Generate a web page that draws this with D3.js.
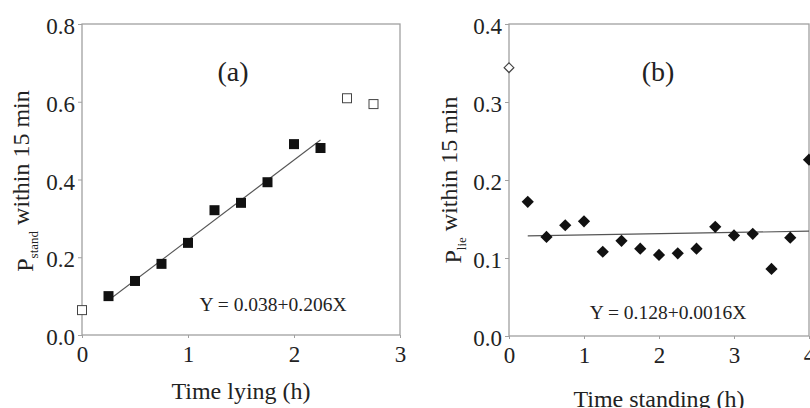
<!DOCTYPE html>
<html><head><meta charset="utf-8">
<script src="https://cdn.jsdelivr.net/npm/d3@7"></script>
<style>body{margin:0;background:#fff}svg{display:block}text{font-family:"Liberation Serif","Times New Roman",serif;fill:#222}</style>
</head><body><svg id="c" width="810" height="408"></svg>
<script>
// Panel (a)
const aFilledX = [0.25,0.5,0.75,1.0,1.25,1.5,1.75,2.0,2.25];
const aFilledY = [0.100,0.139,0.183,0.237,0.321,0.340,0.393,0.491,0.481];
const aOpenX = [0,2.5,2.75];
const aOpenY = [0.064,0.609,0.594];
const aFit = {a:0.038, b:0.206, x0:0.25, x1:2.25};
const aXTicks = [0,1,2,3];
const aYTicks = [0.0,0.2,0.4,0.6,0.8];
// Panel (b)
const bFilledX = [0.25,0.5,0.75,1.0,1.25,1.5,1.75,2.0,2.25,2.5,2.75,3.0,3.25,3.5,3.75,4.0];
const bFilledY = [0.172,0.127,0.142,0.147,0.108,0.122,0.112,0.104,0.106,0.112,0.140,0.129,0.131,0.086,0.126,0.226];
const bOpenX = [0];
const bOpenY = [0.344];
const bFit = {a:0.128, b:0.0016, x0:0.25, x1:4};
const bXTicks = [0,1,2,3,4];
const bYTicks = [0.0,0.1,0.2,0.3,0.4];

const svg = d3.select("#c");
const axisCol = "#a0a0a0";

function panel(o){
  const x = d3.scaleLinear().domain(o.xd).range([o.l,o.r]);
  const y = d3.scaleLinear().domain(o.yd).range([o.b,o.t]);
  const g = svg.append("g");
  g.append("rect").attr("x",o.l).attr("y",o.t).attr("width",o.r-o.l).attr("height",o.b-o.t)
    .attr("fill","none").attr("stroke",axisCol).attr("stroke-width",1.3);
  const ya = g.append("g").attr("transform",`translate(${o.l},0)`)
    .call(d3.axisLeft(y).tickValues(o.yt).tickFormat(d3.format(".1f")).tickSize(4).tickPadding(3));
  ya.select(".domain").remove();
  ya.selectAll("line").attr("stroke",axisCol);
  ya.selectAll("text").style("font-size","23px").attr("fill","#333").attr("dy","0.42em");
  const xa = g.append("g").attr("transform",`translate(0,${o.b})`)
    .call(d3.axisBottom(x).tickValues(o.xt).tickFormat(d3.format("d")).tickSize(3).tickPadding(8));
  xa.select(".domain").remove();
  xa.selectAll("line").attr("stroke",axisCol);
  xa.selectAll("text").style("font-size","23px").attr("fill","#333");
  g.append("line").attr("x1",x(o.fit.x0)).attr("y1",y(o.fit.a+o.fit.b*o.fit.x0))
    .attr("x2",x(o.fit.x1)).attr("y2",y(o.fit.a+o.fit.b*o.fit.x1))
    .attr("stroke","#555").attr("stroke-width",1.1);
  const filled = o.fx.map((d,i)=>[d,o.fy[i]]);
  const open = o.ox.map((d,i)=>[d,o.oy[i]]);
  if(o.shape==="square"){
    g.selectAll(".f").data(filled).join("rect").attr("x",d=>x(d[0])-5).attr("y",d=>y(d[1])-5)
      .attr("width",10).attr("height",10).attr("fill","#111");
    g.selectAll(".o").data(open).join("rect").attr("x",d=>x(d[0])-4.5).attr("y",d=>y(d[1])-4.5)
      .attr("width",9).attr("height",9).attr("fill","#fff").attr("stroke","#444").attr("stroke-width",1);
  } else {
    const dia = d3.symbol().type(d3.symbolDiamond2).size(95);
    g.selectAll(".f").data(filled).join("path").attr("d",dia)
      .attr("transform",d=>`translate(${x(d[0])},${y(d[1])})`).attr("fill","#111");
    g.selectAll(".o").data(open).join("path").attr("d",d3.symbol().type(d3.symbolDiamond2).size(60))
      .attr("transform",d=>`translate(${x(d[0])},${y(d[1])})`).attr("fill","#fff").attr("stroke","#444").attr("stroke-width",1.2);
  }
  g.append("text").attr("x",o.labX).attr("y",o.labY).attr("text-anchor","middle").style("font-size","28px").attr("fill","#333").text(o.label);
  g.append("text").attr("x",o.eqX).attr("y",o.eqY).attr("text-anchor","middle").style("font-size","19.5px").attr("fill","#333").text(o.eq);
  g.append("text").attr("x",(o.l+o.r)/2).attr("y",o.xtY).attr("text-anchor","middle").style("font-size","24px").attr("fill","#333").text(o.xtitle);
  const yt = g.append("text").attr("transform",`translate(${o.ytX},${o.ytY}) rotate(-90)`).attr("text-anchor","middle")
    .style("font-size","24px").attr("fill","#333");
  yt.append("tspan").text("P");
  yt.append("tspan").attr("dy","0.35em").style("font-size","13px").text(o.sub);
  yt.append("tspan").attr("dy","-0.35em").text(" within 15 min");
}

panel({xd:[0,3],yd:[0,0.8],l:82,r:400,t:24,b:335,xt:aXTicks,yt:aYTicks,
  fx:aFilledX,fy:aFilledY,ox:aOpenX,oy:aOpenY,fit:aFit,shape:"square",
  label:"(a)",labX:233,labY:81,eq:"Y = 0.038+0.206X",eqX:273,eqY:311,
  xtitle:"Time lying (h)",xtY:399,sub:"stand",ytX:33,ytY:181});
panel({xd:[0,4],yd:[0,0.4],l:509,r:809,t:24,b:336,xt:bXTicks,yt:bYTicks,
  fx:bFilledX,fy:bFilledY,ox:bOpenX,oy:bOpenY,fit:bFit,shape:"diamond",
  label:"(b)",labX:658,labY:81,eq:"Y = 0.128+0.0016X",eqX:668,eqY:319,
  xtitle:"Time standing (h)",xtY:407,sub:"lie",ytX:461,ytY:180});
</script></body></html>
